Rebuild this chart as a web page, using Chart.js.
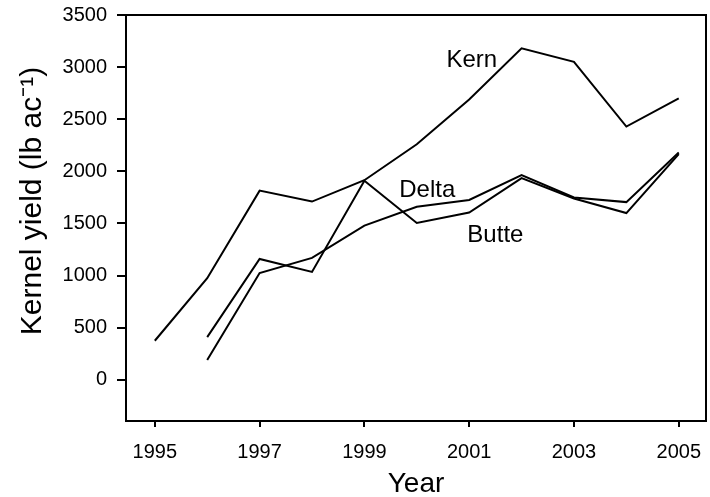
<!DOCTYPE html>
<html>
<head>
<meta charset="utf-8">
<script src="https://cdn.jsdelivr.net/npm/chart.js@4/dist/chart.umd.min.js"></script>
<style>
  html, body { margin: 0; padding: 0; background: #fff; }
  #wrap { width: 710px; height: 497px; }
</style>
</head>
<body>
<div id="wrap"><canvas id="myChart" width="710" height="497"></canvas></div>
<script>
// data
const years = [1995, 1996, 1997, 1998, 1999, 2000, 2001, 2002, 2003, 2004, 2005];
const kern  = [375, 975, 1815, 1710, 1915, 2260, 2690, 3180, 3050, 2430, 2700];
const delta = [null, 190, 1025, 1170, 1480, 1660, 1725, 1965, 1750, 1705, 2180];
const butte = [null, 410, 1160, 1035, 1910, 1505, 1605, 1935, 1740, 1600, 2165];
const yTicks = [0, 500, 1000, 1500, 2000, 2500, 3000, 3500];
const xTicks = [1995, 1997, 1999, 2001, 2003, 2005];

// series names written next to the lines (in data units)
const seriesLabels = [
    { text: 'Kern',  x: 2001.05, y: 3060 },
    { text: 'Delta', x: 2000.2, y: 1815 },
    { text: 'Butte', x: 2001.5, y: 1385 }
];

const FONT = '"Liberation Sans", Arial, sans-serif';
const Y_TITLE = 'Kernel yield (lb ac\u207B\u00B9)';

function toPoints(vals) {
    return years.map((yr, i) => ({ x: yr, y: vals[i] })).filter(p => p.y !== null);
}

function series(label, vals) {
    return {
        label: label,
        data: toPoints(vals),
        borderColor: '#000',
        borderWidth: 2,
        pointRadius: 0,
        tension: 0,
        fill: false
    };
}

// in-plot line names + the y axis title (placed a bit above centre, like the original)
const lineNames = {
    id: 'lineNames',
    afterDatasetsDraw(chart) {
        const ctx = chart.ctx;
        const xs = chart.scales.x, ys = chart.scales.y;
        ctx.save();
        ctx.fillStyle = '#000';
        ctx.font = '24px ' + FONT;
        ctx.textAlign = 'center';
        ctx.textBaseline = 'middle';
        seriesLabels.forEach(l => {
            ctx.fillText(l.text, xs.getPixelForValue(l.x), ys.getPixelForValue(l.y));
        });
        ctx.translate(33, (chart.chartArea.top + chart.chartArea.bottom) / 2 - 17);
        ctx.rotate(-Math.PI / 2);
        ctx.font = '30px ' + FONT;
        ctx.fillText(Y_TITLE, 0, 0);
        ctx.restore();
    }
};

const ctx = document.getElementById('myChart').getContext('2d');
const myChart = new Chart(ctx, {
    type: 'line',
    data: {
        datasets: [series('Kern', kern), series('Delta', delta), series('Butte', butte)]
    },
    options: {
        responsive: false,
        animation: false,
        layout: { padding: { top: 15, right: 4, left: 0, bottom: 0 } },
        plugins: { legend: { display: false }, tooltip: { enabled: false } },
        scales: {
            x: {
                type: 'linear',
                min: 1994.45,
                max: 2005.52,
                afterBuildTicks: axis => { axis.ticks = xTicks.map(v => ({ value: v })); },
                afterFit: axis => { axis.height = 76; axis.paddingLeft = 0; axis.paddingRight = 0; },
                ticks: {
                    color: '#000',
                    font: { family: FONT, size: 20 },
                    padding: 13,
                    maxRotation: 0,
                    callback: v => String(v)
                },
                grid: { drawOnChartArea: false, tickLength: 6, color: '#000', lineWidth: 2 },
                border: { color: '#000', width: 2 },
                title: {
                    display: true,
                    text: 'Year',
                    color: '#000',
                    font: { family: FONT, size: 28 },
                    padding: { top: 0, bottom: -4 }
                }
            },
            y: {
                min: -395,
                max: 3500,
                afterBuildTicks: axis => { axis.ticks = yTicks.map(v => ({ value: v })); },
                afterFit: axis => { axis.width = 126; axis.paddingTop = 0; axis.paddingBottom = 0; },
                ticks: {
                    color: '#000',
                    font: { family: FONT, size: 20 },
                    padding: 10,
                    callback: v => String(v)
                },
                grid: { drawOnChartArea: false, tickLength: 9, color: '#000', lineWidth: 2 },
                border: { color: '#000', width: 2 }
            },
            x2: {
                type: 'linear',
                position: 'top',
                min: 1994.45,
                max: 2005.52,
                ticks: { display: false },
                grid: { display: false },
                border: { color: '#000', width: 2 },
                afterFit: axis => { axis.height = 0; axis.paddingLeft = 0; axis.paddingRight = 0; }
            },
            y2: {
                position: 'right',
                min: -395,
                max: 3500,
                ticks: { display: false },
                grid: { display: false },
                border: { color: '#000', width: 2 },
                afterFit: axis => { axis.width = 0; axis.paddingTop = 0; axis.paddingBottom = 0; }
            }
        }
    },
    plugins: [lineNames]
});
</script>
</body>
</html>
